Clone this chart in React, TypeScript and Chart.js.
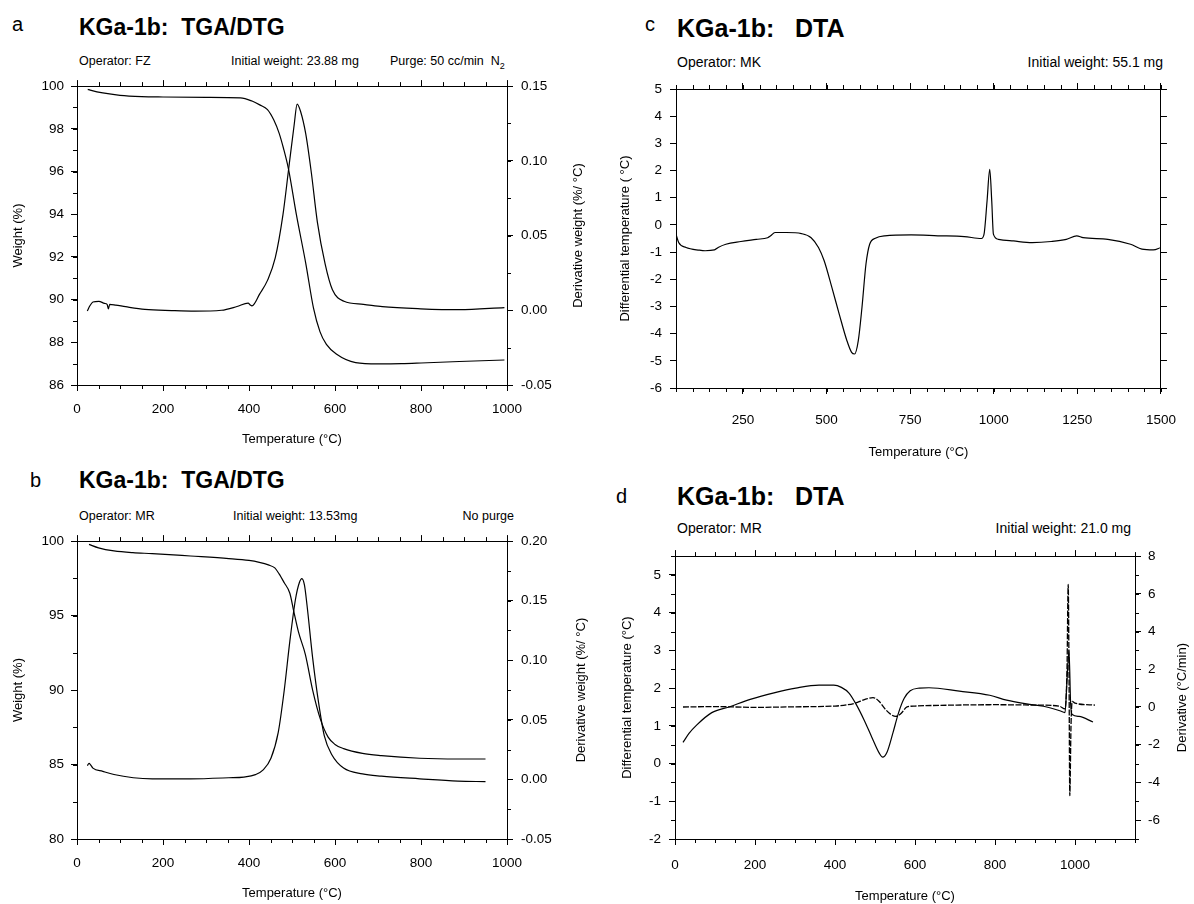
import React, { useEffect, useRef } from "react";
import { Chart, registerables } from "chart.js";
Chart.register(...registerables);

const FONT = "'Liberation Sans', Arial, Helvetica, sans-serif";

// ---------- Panel a : TGA / DTG (operator FZ) ----------
const aTgaTemp = [25, 33, 60, 100, 150, 200, 300, 380, 407, 425, 443, 458, 470, 480, 492, 510, 532, 550, 565, 580, 603, 648, 700, 755, 800, 889, 994];
const aTgaWeight = [99.85, 99.8, 99.68, 99.57, 99.51, 99.49, 99.47, 99.45, 99.3, 99.12, 98.9, 98.4, 97.8, 97.1, 96.1, 94.0, 91.7, 89.6, 88.5, 87.9, 87.45, 87.05, 86.99, 87.0, 87.03, 87.1, 87.17];
const aDtgTemp = [24, 30, 37, 51, 64, 70, 73, 76, 90, 113, 158, 220, 274, 336, 372, 398, 403, 407, 425, 443, 461, 479, 492, 505, 512, 520, 532, 545, 559, 577, 594, 621, 666, 710, 799, 889, 994];
const aDtgValue = [-0.0005, 0.003, 0.0055, 0.006, 0.0046, 0.004, 0.001, 0.004, 0.0035, 0.0024, 0.0006, -0.0002, -0.0006, 0.0, 0.0025, 0.0048, 0.0035, 0.003, 0.011, 0.02, 0.035, 0.064, 0.094, 0.124, 0.138, 0.133, 0.118, 0.092, 0.059, 0.031, 0.0137, 0.006, 0.004, 0.0024, 0.001, 0.0004, 0.0018];
const aXTicks = [0, 200, 400, 600, 800, 1000];
const aWeightTicks = [86, 88, 90, 92, 94, 96, 98, 100];
const aDtgTicks = [-0.05, 0, 0.05, 0.1, 0.15];

// ---------- Panel b : TGA / DTG (operator MR) ----------
const bTgaTemp = [28, 50, 86, 130, 175, 264, 353, 400, 424, 445, 460, 470, 482, 495, 504, 515, 531, 548, 566, 584, 600, 620, 664, 708, 797, 886, 950];
const bTgaWeight = [99.78, 99.55, 99.34, 99.22, 99.16, 99.0, 98.83, 98.7, 98.57, 98.4, 98.2, 97.8, 97.2, 96.5, 95.3, 93.9, 92.4, 90.0, 88.05, 86.84, 86.35, 86.07, 85.75, 85.6, 85.42, 85.37, 85.37];
const bDtgTemp = [24, 28, 32, 37, 60, 86, 131, 175, 264, 353, 388, 415, 433, 451, 468, 482, 495, 508, 517, 523, 529, 535, 548, 562, 575, 593, 620, 664, 708, 797, 886, 950];
const bDtgValue = [0.0115, 0.0135, 0.012, 0.0095, 0.0068, 0.0041, 0.0014, 0.0005, 0.0005, 0.0014, 0.002, 0.004, 0.008, 0.0177, 0.0395, 0.075, 0.116, 0.151, 0.165, 0.1685, 0.163, 0.146, 0.102, 0.064, 0.0368, 0.0205, 0.0095, 0.0046, 0.0027, 0.0005, -0.0014, -0.0019];
const bXTicks = [0, 200, 400, 600, 800, 1000];
const bWeightTicks = [80, 85, 90, 95, 100];
const bDtgTicks = [-0.05, 0, 0.05, 0.1, 0.15, 0.2];

// ---------- Panel c : DTA (operator MK) ----------
const cTemp = [50, 58, 80, 120, 137, 165, 176, 199, 244, 290, 324, 333, 346, 380, 425, 454, 476, 493, 516, 538, 561, 575, 584, 595, 606, 618, 629, 646, 674, 753, 833, 912, 963, 971, 980, 988, 994, 999, 1014, 1059, 1115, 1172, 1217, 1248, 1267, 1341, 1409, 1443, 1477, 1500];
const cDta = [-0.34, -0.65, -0.83, -0.93, -0.95, -0.92, -0.83, -0.71, -0.61, -0.53, -0.47, -0.4, -0.28, -0.28, -0.32, -0.47, -0.83, -1.32, -2.3, -3.28, -4.26, -4.69, -4.75, -4.26, -3.04, -1.44, -0.71, -0.49, -0.4, -0.37, -0.4, -0.43, -0.5, -0.34, 0.88, 2.04, 0.88, -0.34, -0.53, -0.59, -0.65, -0.61, -0.53, -0.4, -0.47, -0.53, -0.71, -0.89, -0.92, -0.83];
const cXTicks = [250, 500, 750, 1000, 1250, 1500];
const cYTicks = [-6, -5, -4, -3, -2, -1, 0, 1, 2, 3, 4, 5];

// ---------- Panel d : DTA + derivative (operator MR) ----------
const dDtaTemp = [20, 35, 54, 92, 135, 188, 250, 302, 360, 397, 416, 435, 454, 473, 492, 511, 519, 530, 545, 559, 573, 588, 611, 635, 711, 787, 829, 879, 921, 962, 975, 980, 985, 989, 993, 1010, 1045];
const dDtaValue = [0.56, 0.8, 1.02, 1.35, 1.5, 1.7, 1.88, 2.0, 2.08, 2.08, 2.02, 1.87, 1.55, 1.15, 0.7, 0.27, 0.17, 0.3, 0.82, 1.35, 1.73, 1.93, 2.0, 2.01, 1.92, 1.81, 1.68, 1.58, 1.52, 1.4, 1.35, 2.2, 3.0, 1.6, 1.3, 1.25, 1.1];
const dDerTemp = [20, 100, 200, 300, 400, 450, 475, 495, 510, 525, 540, 552, 565, 580, 600, 700, 800, 900, 960, 975, 980, 983, 985, 987, 990, 993, 1000, 1050];
const dDerValue = [0, 0.02, -0.02, 0.01, 0.05, 0.2, 0.4, 0.5, 0.3, -0.1, -0.4, -0.5, -0.35, 0, 0.05, 0.1, 0.12, 0.1, 0.05, -0.1, 2, 6.5, 2, -4.7, -1, 0.3, 0.2, 0.1];
const dXTicks = [0, 200, 400, 600, 800, 1000];
const dYTicks = [-2, -1, 0, 1, 2, 3, 4, 5];
const dDerTicks = [-6, -4, -2, 0, 2, 4, 6, 8];

const TICK_SIZE = 13.5;
const TITLE_SIZE = 13;
const tickFont = { family: FONT, size: TICK_SIZE };
const axisTitleFont = { family: FONT, size: TITLE_SIZE };

const extras = {
  id: "extras",
  afterDraw(chart: any, _a: any, opts: any) {
    const ctx = chart.ctx;
    const items = (opts && opts.items) || [];
    ctx.save();
    ctx.strokeStyle = "#000";
    ctx.lineWidth = 1;
    for (const it of items) {
      const s = chart.scales[it.id];
      if (!s) continue;
      const n0 = Math.ceil(s.min / it.step - 1e-6);
      const n1 = Math.floor(s.max / it.step + 1e-6);
      for (let n = n0; n <= n1; n++) {
        const p = Math.round(s.getPixelForValue(n * it.step)) + 0.5;
        ctx.beginPath();
        if (s.isHorizontal()) {
          const y = s.position === "top" ? s.bottom : s.top;
          const dir = s.position === "top" ? -1 : 1;
          ctx.moveTo(p, y);
          ctx.lineTo(p, y + dir * it.len);
        } else {
          const x = s.position === "left" ? s.right : s.left;
          const dir = s.position === "left" ? -1 : 1;
          ctx.moveTo(x, p);
          ctx.lineTo(x + dir * it.len, p);
        }
        ctx.stroke();
      }
    }
    const rt = opts && opts.rightTitle;
    if (rt) {
      const s = chart.scales.y2;
      ctx.font = `${TITLE_SIZE}px ${FONT}`;
      ctx.fillStyle = "#000";
      ctx.textAlign = "center";
      ctx.textBaseline = "middle";
      ctx.translate(s.right - rt.pad - (TITLE_SIZE * 1.2) / 2, (s.top + s.bottom) / 2);
      ctx.rotate(-Math.PI / 2);
      ctx.fillText(rt.text, 0, 0);
    }
    ctx.restore();
  },
};

const grid = { drawOnChartArea: false, drawTicks: true, tickLength: 6, color: "#000", tickColor: "#000", lineWidth: 1 };
const border = { display: true, color: "#000", width: 1 };

function setTicks(values: number[]) {
  return (s: any) => {
    s.ticks = values.map((v) => ({ value: v }));
  };
}

function xBottom(min: number, max: number, ticks: number[], h: number, labelPad: number, titlePad: number) {
  return {
    type: "linear",
    position: "bottom",
    min,
    max,
    afterBuildTicks: setTicks(ticks),
    afterFit: (s: any) => {
      s.height = h;
    },
    ticks: { font: tickFont, color: "#000", padding: labelPad, maxRotation: 0, autoSkip: false, callback: (v: any) => String(v) },
    grid,
    border,
    title: { display: true, text: "Temperature (°C)", font: axisTitleFont, color: "#000", padding: { top: 0, bottom: titlePad } },
  };
}

function xTop(min: number, max: number, ticks: number[], h: number) {
  return {
    type: "linear",
    position: "top",
    min,
    max,
    afterBuildTicks: setTicks(ticks),
    afterFit: (s: any) => {
      s.height = h;
    },
    ticks: { display: false },
    grid,
    border,
  };
}

function yAxis(pos: string, min: number, max: number, ticks: number[], w: number, labelPad: number, showLabels: boolean, title: string | null, titlePad: number, fmt?: (v: number) => string) {
  return {
    type: "linear",
    position: pos,
    min,
    max,
    afterBuildTicks: setTicks(ticks),
    afterFit: (s: any) => {
      s.width = w;
    },
    ticks: {
      display: showLabels,
      font: tickFont,
      color: "#000",
      padding: labelPad,
      autoSkip: false,
      callback: fmt ? (v: any) => fmt(Number(v)) : (v: any) => String(v),
    },
    grid,
    border,
    title: title
      ? { display: true, text: title, font: axisTitleFont, color: "#000", padding: { top: titlePad, bottom: 0 } }
      : { display: false },
  };
}

function line(xs: number[], ys: number[], axis: string, dash: number[] = [], width = 1.2) {
  return {
    data: xs.map((x, i) => ({ x, y: ys[i] })),
    yAxisID: axis,
    borderColor: "#000",
    borderWidth: width,
    borderDash: dash,
    pointRadius: 0,
    fill: false,
    cubicInterpolationMode: "monotone",
  };
}

function baseConfig(datasets: any[], scales: any, items: any[], rightTitle?: any) {
  return {
    type: "line",
    data: { datasets },
    options: {
      animation: false,
      responsive: false,
      events: [],
      layout: { padding: 0 },
      plugins: { legend: { display: false }, tooltip: { enabled: false }, extras: { items, rightTitle } },
      scales,
    },
    plugins: [extras],
  };
}

const fmt2 = (v: number) => v.toFixed(2);

function configA() {
  return baseConfig(
    [line(aTgaTemp, aTgaWeight, "y"), line(aDtgTemp, aDtgValue, "y2")],
    {
      x: xBottom(0, 1000, aXTicks, 65, 10, 3),
      xt: xTop(0, 1000, aXTicks, 9),
      y: yAxis("left", 86, 100, aWeightTicks, 77, 7, true, "Weight (%)", 11),
      y2: yAxis("right", -0.05, 0.15, aDtgTicks, 93, 8, true, null, 0, fmt2),
    },
    [
      { id: "x", step: 50, len: 4 },
      { id: "xt", step: 50, len: 4 },
      { id: "y", step: 1, len: 4 },
      { id: "y2", step: 0.025, len: 4 },
    ],
    { text: "Derivative weight (%/ °C)", pad: 14 }
  );
}

function configB() {
  return baseConfig(
    [line(bTgaTemp, bTgaWeight, "y"), line(bDtgTemp, bDtgValue, "y2")],
    {
      x: xBottom(0, 1000, bXTicks, 65, 10, 3),
      xt: xTop(0, 1000, bXTicks, 10),
      y: yAxis("left", 80, 100, bWeightTicks, 77, 7, true, "Weight (%)", 11),
      y2: yAxis("right", -0.05, 0.2, bDtgTicks, 93, 8, true, null, 0, fmt2),
    },
    [
      { id: "x", step: 50, len: 4 },
      { id: "xt", step: 50, len: 4 },
      { id: "y", step: 2.5, len: 4 },
      { id: "y2", step: 0.025, len: 4 },
    ],
    { text: "Derivative weight (%/ °C)", pad: 11 }
  );
}

function configC() {
  return baseConfig(
    [line(cTemp, cDta, "y")],
    {
      x: xBottom(50, 1500, cXTicks, 82, 18, 10),
      xt: xTop(50, 1500, cXTicks, 19),
      y: yAxis("left", -6, 5, cYTicks, 76, 8, true, "Differential temperature ( °C)", 18),
      y2: yAxis("right", -6, 5, cYTicks, 28, 0, false, null, 0),
    },
    [
      { id: "x", step: 50, len: 4 },
      { id: "xt", step: 50, len: 4 },
    ]
  );
}

function configD() {
  return baseConfig(
    [line(dDtaTemp, dDtaValue, "y"), line(dDerTemp, dDerValue, "y2", [6, 1.5], 1.3)],
    {
      x: xBottom(0, 1150, dXTicks, 65, 12, 0),
      xt: xTop(0, 1150, dXTicks, 13),
      y: yAxis("left", -2, 5.5, dYTicks, 75, 8, true, "Differential temperature (°C)", 20),
      y2: yAxis("right", -7, 8, dDerTicks, 59, 7, true, null, 0),
    },
    [
      { id: "x", step: 50, len: 4 },
      { id: "xt", step: 50, len: 4 },
      { id: "y", step: 0.5, len: 4 },
      { id: "y2", step: 1, len: 4 },
    ],
    { text: "Derivative (°C/min)", pad: 4 }
  );
}

function ChartBox({ left, top, width, height, make }: any) {
  const ref = useRef<HTMLCanvasElement>(null);
  useEffect(() => {
    const chart = new Chart(ref.current as HTMLCanvasElement, make() as any);
    return () => chart.destroy();
  }, []);
  return (
    <canvas
      ref={ref}
      width={width}
      height={height}
      style={{ position: "absolute", left, top, width, height, display: "block" }}
    />
  );
}

function T({ x, y, size, bold, right, children }: any) {
  const style: any = {
    position: "absolute",
    top: y - size * 0.85,
    fontFamily: FONT,
    fontSize: size,
    lineHeight: `${size}px`,
    fontWeight: bold ? 700 : 400,
    whiteSpace: "pre",
    color: "#000",
  };
  if (right) style.right = 1194 - x;
  else style.left = x;
  return <div style={style}>{children}</div>;
}

export default function App() {
  return (
    <div style={{ position: "fixed", left: 0, top: 0, width: 1194, height: 904, background: "#fff", overflow: "hidden" }}>
      {/* panel a */}
      <T x={12} y={31} size={20}>a</T>
      <T x={79} y={36} size={23} bold>{"KGa-1b:  TGA/DTG"}</T>
      <T x={79} y={66} size={12.5}>Operator: FZ</T>
      <T x={231} y={66} size={12.5}>Initial weight: 23.88 mg</T>
      <T x={390} y={66} size={12.5}>
        {"Purge: 50 cc/min  N"}
        <sub style={{ fontSize: 9, lineHeight: 0 }}>2</sub>
      </T>
      <ChartBox left={0} top={70} width={600} height={380} make={configA} />

      {/* panel b */}
      <T x={30} y={487} size={20}>b</T>
      <T x={79} y={489} size={23} bold>{"KGa-1b:  TGA/DTG"}</T>
      <T x={79} y={521} size={12.5}>Operator: MR</T>
      <T x={233} y={521} size={12.5}>Initial weight: 13.53mg</T>
      <T x={514} y={521} size={12.5} right>No purge</T>
      <ChartBox left={0} top={525} width={600} height={379} make={configB} />

      {/* panel c */}
      <T x={645} y={31} size={20}>c</T>
      <T x={677} y={37} size={25} bold>{"KGa-1b:   DTA"}</T>
      <T x={677} y={67} size={14}>Operator: MK</T>
      <T x={1163} y={67} size={14} right>Initial weight: 55.1 mg</T>
      <ChartBox left={600} top={70} width={594} height={400} make={configC} />

      {/* panel d */}
      <T x={616} y={503} size={20}>d</T>
      <T x={677} y={505} size={25} bold>{"KGa-1b:   DTA"}</T>
      <T x={677} y={533} size={14}>Operator: MR</T>
      <T x={1131} y={533} size={14} right>Initial weight: 21.0 mg</T>
      <ChartBox left={600} top={540} width={594} height={364} make={configD} />
    </div>
  );
}
